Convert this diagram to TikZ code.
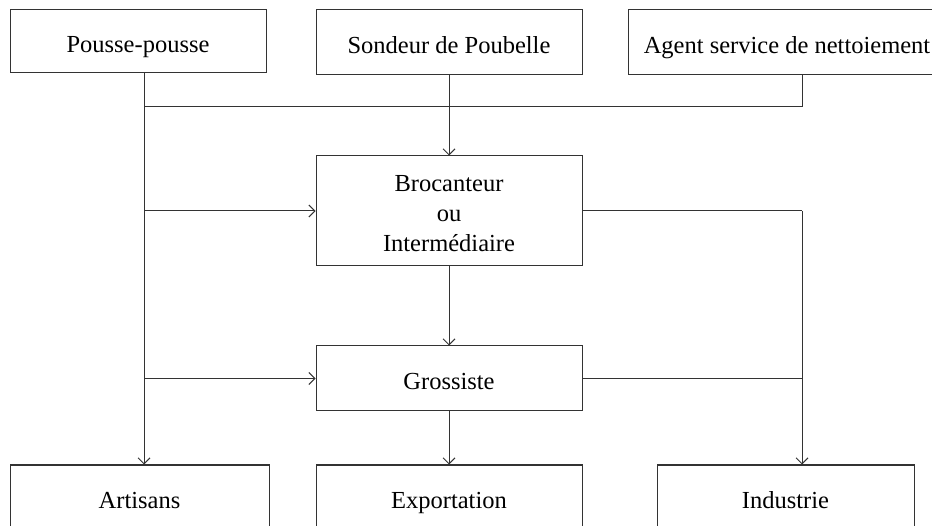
\documentclass[tikz,border=0pt]{standalone}
\usepackage{fontspec}
\setmainfont{Liberation Serif}
\usetikzlibrary{arrows.meta}
\begin{document}
\begin{tikzpicture}[x=1pt, y=-1pt,
        box/.style={draw=black!80, line width=1pt, minimum height=65pt, align=center,
                font=\fontsize{24.5}{30}\selectfont, inner sep=0pt,
                text height=22pt, text depth=0pt},
        link/.style={draw=black!80, line width=1pt},
        flow/.style={link, -{Straight Barb[length=6pt, width=12pt]}}]
        \clip (0,0) rectangle (932,526);
        \useasboundingbox (0,0) rectangle (932,526);
        % sources
        \node[box, minimum width=256pt, minimum height=63pt] (pousse) at (138,41.5) {Pousse-pousse};
        \node[box, minimum width=266pt] (sondeur) at (449,42.5) {Sondeur de Poubelle};
        \node[box, minimum width=318pt] (agent) at (787,42.5) {Agent service de nettoiement};
        % intermediaires
        \node[box, minimum width=266pt, minimum height=110pt, text height=82pt] (broc) at (449,211) {Brocanteur\\ou\\Intermédiaire};
        \node[box, minimum width=266pt] (gross) at (449,378.5) {Grossiste};
        % destinations
        \node[box, minimum width=259pt] (artisans) at (139.5,497.5) {Artisans};
        \node[box, minimum width=266pt] (export) at (449,497.5) {Exportation};
        \node[box, minimum width=257pt] (industrie) at (785.5,497.5) {Industrie};
        \coordinate (jleft) at (144,107);
        \coordinate (jright) at (802,107);
        \draw[flow] (pousse.south -| jleft) -- (artisans.north -| jleft);
        \draw[link] (agent.south -| jright) -- (jright) -- (jleft);
        \draw[flow] (sondeur.south) -- (broc.north);
        \draw[flow] (jleft |- broc.west) -- (broc.west);
        \draw[flow] (jleft |- gross.west) -- (gross.west);
        \draw[flow] (broc.south) -- (gross.north);
        \draw[flow] (gross.south) -- (export.north);
        \draw[link] (broc.east) -- (broc.east -| jright);
        \draw[flow] (broc.east -| jright) -- (industrie.north -| jright);
        \draw[link] (gross.east) -- (gross.east -| jright);
\end{tikzpicture}
\end{document}
